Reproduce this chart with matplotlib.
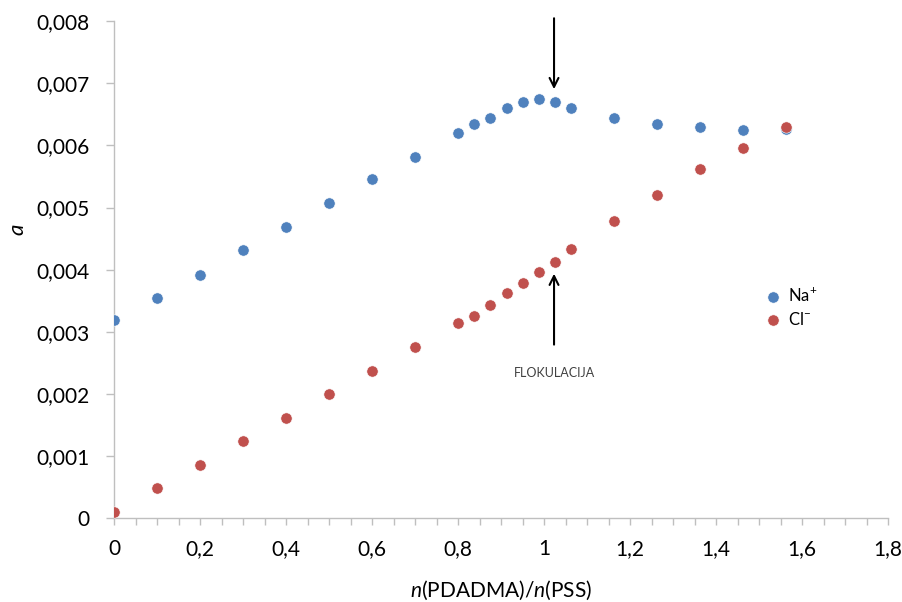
import numpy as np, matplotlib
matplotlib.use("Agg"); import matplotlib.pyplot as plt
from matplotlib.ticker import FuncFormatter, MultipleLocator
plt.rcParams.update({"font.family":["Lato","DejaVu Sans"],"mathtext.fontset":"custom",
                     "mathtext.rm":"Lato","mathtext.it":"Lato:italic","mathtext.bf":"Lato:bold"})

# data
ratio = [0, 0.1, 0.2, 0.3, 0.4, 0.5, 0.6, 0.7, 0.8, 0.8375, 0.875, 0.9125, 0.95, 0.9875,
         1.025, 1.0625, 1.1625, 1.2625, 1.3625, 1.4625, 1.5625]
na = [3.19, 3.55, 3.92, 4.31, 4.69, 5.07, 5.46, 5.81, 6.20, 6.34, 6.44, 6.60, 6.70, 6.75,
      6.70, 6.60, 6.44, 6.34, 6.29, 6.25, 6.26]
cl = [0.10, 0.48, 0.86, 1.25, 1.61, 2.00, 2.37, 2.75, 3.14, 3.25, 3.43, 3.62, 3.79, 3.96,
      4.13, 4.33, 4.78, 5.20, 5.62, 5.96, 6.29]
na = np.array(na)*1e-3; cl = np.array(cl)*1e-3
floc_x = 1.023

BLUE, RED, GREY = "#4F81BD", "#C0504D", "#BFBFBF"

fig = plt.figure(figsize=(9.03, 6.02), dpi=100)
ax = fig.add_axes([0.1266, 0.139, 0.8568, 0.826])
ax.scatter(ratio, na, s=66, color=BLUE, edgecolor="white", linewidth=0.4, zorder=3, label="Na$^{+}$")
ax.scatter(ratio, cl, s=66, color=RED, edgecolor="white", linewidth=0.4, zorder=4, label="Cl$^{-}$")

ax.set_xlim(0, 1.8); ax.set_ylim(0, 0.008)
for s in ["top", "right"]: ax.spines[s].set_visible(False)
for s in ["left", "bottom"]: ax.spines[s].set_color(GREY); ax.spines[s].set_linewidth(1.0)

def fmt(v, pos):
    s = ("%.3f" % v).rstrip("0").rstrip(".")
    return s.replace(".", ",")
ax.xaxis.set_major_locator(MultipleLocator(0.2))
ax.xaxis.set_minor_locator(MultipleLocator(0.05))
ax.yaxis.set_major_locator(MultipleLocator(0.001))
ax.xaxis.set_major_formatter(FuncFormatter(fmt))
ax.yaxis.set_major_formatter(FuncFormatter(fmt))
ax.tick_params(axis="x", which="both", direction="out", length=5, width=1, color=GREY, labelsize=15, pad=10)
ax.tick_params(axis="y", direction="out", length=6, width=1, color=GREY, labelsize=15, pad=12)

ax.set_xlabel("$\\mathit{n}$(PDADMA)/$\\mathit{n}$(PSS)", fontsize=15, labelpad=14)
ax.set_ylabel("$\\mathit{a}$", fontsize=16)
ax.yaxis.set_label_coords(-0.112, 0.58)

ax.annotate("", xy=(floc_x, 0.00686), xytext=(floc_x, 0.00809), annotation_clip=False,
            arrowprops=dict(arrowstyle="->", color="black", lw=1.5, mutation_scale=16))
ax.annotate("", xy=(floc_x, 0.00398), xytext=(floc_x, 0.00275),
            arrowprops=dict(arrowstyle="->", color="black", lw=1.5, mutation_scale=16))
ax.text(floc_x + 0.002, 0.00234, "FLOKULACIJA", fontsize=9, color="#404040", ha="center", va="center")

ax.legend(loc="center left", bbox_to_anchor=(0.840, 0.425), frameon=False, fontsize=12,
          borderpad=0, borderaxespad=0, handlelength=1.0, handletextpad=0.45, labelspacing=0.4,
          scatterpoints=1)

fig.savefig("out.png", dpi=100)
